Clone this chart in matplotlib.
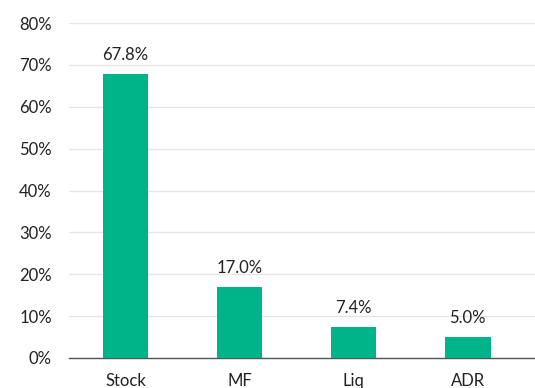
import matplotlib.pyplot as plt
from matplotlib.ticker import FuncFormatter

plt.rcParams['font.family'] = ['Lato', 'DejaVu Sans']

categories = ['Stock', 'MF', 'Liq', 'ADR']
shares = [67.8, 17.0, 7.4, 5.0]
yticks = [0, 10, 20, 30, 40, 50, 60, 70, 80]

W, H = 535, 388
fig = plt.figure(figsize=(W / 100, H / 100), dpi=100)
# axes placed in pixel terms: left 69, right 535, 0% at y=358, 80% at y=23
ax = fig.add_axes([68.5 / W, (H - 358) / H, (W - 68.5) / W, (358 - 23) / H])

x = range(len(categories))
bars = ax.bar(x, shares, width=0.40, color='#00B48A', zorder=3)

for b, v in zip(bars, shares):
    ax.text(b.get_x() + b.get_width() / 2, v + 2.7, '{:.1f}%'.format(v),
            ha='center', va='bottom', fontsize=12, color='#222222')

ax.set_xlim(-0.5, 3.59)
ax.set_ylim(0, 80)
ax.set_yticks(yticks)
ax.yaxis.set_major_formatter(FuncFormatter(lambda v, p: '{:.0f}%'.format(v)))
ax.set_xticks(list(x))
ax.set_xticklabels(categories)

ax.grid(axis='y', color='#e6e6e6', linewidth=1, zorder=0)
for s in ['top', 'right', 'left']:
    ax.spines[s].set_visible(False)
ax.spines['bottom'].set_color('#555555')
ax.spines['bottom'].set_linewidth(1)
ax.tick_params(axis='both', length=0, labelsize=12, colors='#222222')
ax.tick_params(axis='y', pad=12)
ax.tick_params(axis='x', pad=11)

fig.savefig('out.png', dpi=100)
